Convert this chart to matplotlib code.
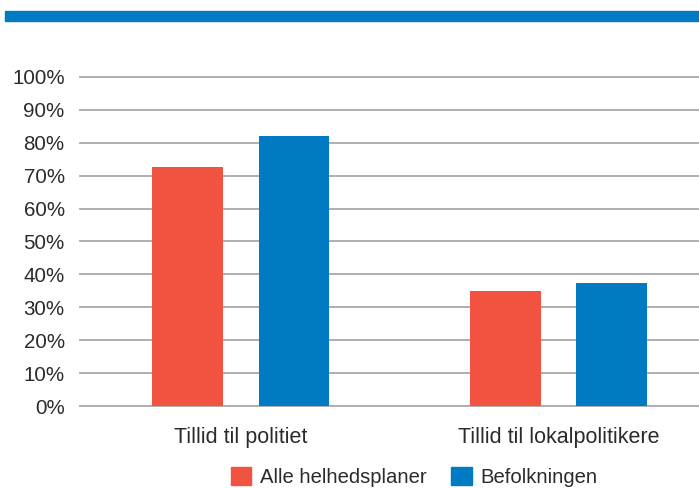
import numpy as np
import matplotlib.pyplot as plt
from matplotlib.patches import Rectangle, Patch

categories = ["Tillid til politiet", "Tillid til lokalpolitikere"]
alle_helhedsplaner = [72.5, 35.1]
befolkningen = [82.0, 37.3]
series_names = ["Alle helhedsplaner", "Befolkningen"]
yticks = np.arange(0, 101, 10)

red = "#F15340"
blue = "#007AC2"
text_col = "#2b2b2b"

plt.rcParams['font.family'] = ['Liberation Sans', 'DejaVu Sans']

fig = plt.figure(figsize=(6.99, 4.88), dpi=100)
ax = fig.add_axes([80 / 699, 82 / 488, 619 / 699, 329 / 488])

# blue band at the top
fig.patches.append(Rectangle((5 / 699, 1 - 21 / 488), 1, 10 / 488,
                             transform=fig.transFigure, color=blue, zorder=5))

x = np.arange(len(categories))
w = 0.223
off = 0.168
ax.bar(x - off, alle_helhedsplaner, w, color=red, zorder=3)
ax.bar(x + off, befolkningen, w, color=blue, zorder=3)

ax.set_xlim(-0.505, 1.442)
ax.set_ylim(0, 100)
ax.set_yticks(yticks)
ax.set_yticklabels([f"{v}%" for v in yticks], fontsize=14.8, color=text_col)
ax.set_xticks(x)
ax.set_xticklabels(categories, fontsize=15.5, color=text_col)
ax.tick_params(axis='y', length=0, pad=11)
ax.tick_params(axis='x', length=0, pad=15)

ax.yaxis.grid(True, color="#a8a8a8", linewidth=1.3, zorder=0)
for line in ax.get_ygridlines():
    line.set_clip_on(False)
ax.set_axisbelow(True)
for s in ax.spines.values():
    s.set_visible(False)

handles = [Patch(color=red), Patch(color=blue)]
fig.legend(handles, series_names, loc='center', bbox_to_anchor=(0.593, 0.022),
           ncol=2, frameon=False, fontsize=14.6, handlelength=1.0, handleheight=1.0,
           handletextpad=0.45, columnspacing=1.2, labelcolor=text_col)

fig.savefig("out.png", dpi=100)
